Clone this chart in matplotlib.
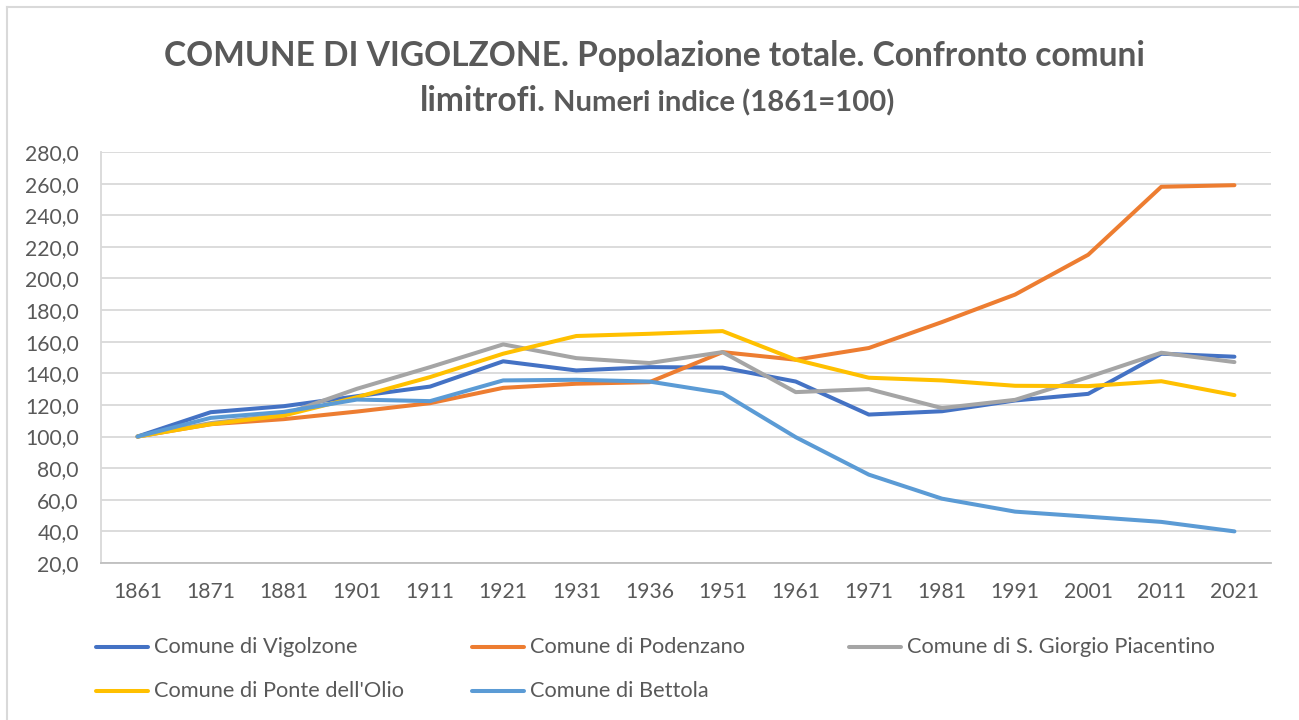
import matplotlib
matplotlib.use("Agg")
import matplotlib.pyplot as plt
from matplotlib.lines import Line2D

# ---------------- data ----------------
years = ['1861', '1871', '1881', '1901', '1911', '1921', '1931', '1936',
         '1951', '1961', '1971', '1981', '1991', '2001', '2011', '2021']

vigolzone = [100, 115.4, 119.2, 125.5, 131.6, 147.6, 141.8, 143.9,
             143.6, 134.8, 113.9, 116.0, 122.8, 127.0, 152.4, 150.5]
podenzano = [100, 107.8, 111.0, 115.8, 121.1, 130.8, 133.4, 134.4,
             153.4, 148.6, 156.0, 172.4, 189.8, 215.0, 258.0, 259.0]
sgiorgio = [100, 108.5, 114.0, 130.2, 143.9, 158.3, 149.6, 146.5,
            153.4, 128.1, 130.0, 118.0, 123.2, 137.6, 153.0, 147.1]
ponte = [100, 107.8, 113.3, 124.9, 137.6, 152.4, 163.6, 165.0,
         166.7, 148.6, 137.2, 135.5, 132.1, 131.9, 135.0, 126.2]
bettola = [100, 111.8, 115.6, 123.4, 122.4, 135.5, 135.9, 134.8,
           127.5, 99.6, 75.9, 60.7, 52.5, 49.3, 46.0, 40.0]

series_names = ['Comune di Vigolzone', 'Comune di Podenzano',
                'Comune di S. Giorgio Piacentino', "Comune di Ponte dell'Olio",
                'Comune di Bettola']
series_vals = [vigolzone, podenzano, sgiorgio, ponte, bettola]
colors = ['#4472C4', '#ED7D31', '#A5A5A5', '#FFC000', '#5B9BD5']

yticks = list(range(20, 281, 20))

# ---------------- figure ----------------
W, H = 1299, 720
FONT = 'Lato'
TXT = '#595959'
plt.rcParams['font.family'] = [FONT, 'DejaVu Sans']

fig = plt.figure(figsize=(W / 100, H / 100), dpi=100)
renderer = fig.canvas.get_renderer()


def fit(text_obj, target_px):
    fs = text_obj.get_fontsize()
    for _ in range(3):
        w = text_obj.get_window_extent(renderer).width
        fs = fs * target_px / w
        text_obj.set_fontsize(fs)
    return fs


def fx(px):
    return px / W


def fy(py):
    return 1 - py / H


# chart border (left and top only visible)
fig.add_artist(Line2D([fx(7), fx(7)], [fy(7), fy(720)], color='#d9d9d9', lw=1.5))
fig.add_artist(Line2D([fx(7), fx(1299)], [fy(7), fy(7)], color='#d9d9d9', lw=1.5))

ax = fig.add_axes([fx(101), fy(563), fx(1271) - fx(101), (563 - 152) / H])
x = list(range(len(years)))
for name, vals, c in zip(series_names, series_vals, colors):
    ax.plot(x, vals, color=c, lw=2.9, solid_capstyle='round',
            solid_joinstyle='round', label=name)

ax.set_xlim(-0.5, len(years) - 0.5)
ax.set_ylim(20, 280)
ax.set_yticks(yticks)
ax.set_yticklabels([f"{v:.1f}".replace('.', ',') for v in yticks])
ax.set_xticks(x)
ax.set_xticklabels(years)
ax.grid(axis='y', color='#d9d9d9', lw=1.3)
ax.set_axisbelow(True)
for s in ['top', 'right']:
    ax.spines[s].set_visible(False)
ax.spines['left'].set_color('#d9d9d9')
ax.spines['left'].set_linewidth(1.3)
ax.spines['bottom'].set_color('#bfbfbf')
ax.spines['bottom'].set_linewidth(1.3)
ax.tick_params(length=0)

# fit tick font size
probe = fig.text(0, 0, '280,0', fontsize=14, family=FONT)
tick_fs = fit(probe, 54)
probe.remove()
ax.tick_params(axis='y', labelsize=tick_fs, labelcolor=TXT, pad=16)
ax.tick_params(axis='x', labelsize=tick_fs, labelcolor=TXT, pad=14)

# ---------------- title ----------------
t1 = fig.text(fx(654), fy(66), 'COMUNE DI VIGOLZONE. Popolazione totale. Confronto comuni',
              ha='center', va='baseline', fontsize=24, fontweight='bold', color=TXT)
big_fs = fit(t1, 982)
t2a = fig.text(fx(546), fy(111), 'limitrofi.', ha='right', va='baseline',
               fontsize=big_fs, fontweight='bold', color=TXT)
t2b = fig.text(fx(553), fy(111), 'Numeri indice (1861=100)', ha='left', va='baseline',
               fontsize=18, fontweight='bold', color=TXT)
fit(t2b, 340)

# ---------------- legend (Excel-style, equally spaced columns) ----------------
leg_pos = [(96, 647), (472, 647), (849, 647), (96, 691), (472, 691)]
leg_texts = []
for (px, py), name, c in zip(leg_pos, series_names, colors):
    fig.add_artist(Line2D([fx(px), fx(px + 52)], [fy(py), fy(py)], color=c, lw=2.9,
                          solid_capstyle='round'))
    leg_texts.append(fig.text(fx(px + 58), fy(py), name, ha='left', va='center',
                              fontsize=14, color=TXT))
leg_fs = fit(leg_texts[0], 204)
for t in leg_texts:
    t.set_fontsize(leg_fs)

fig.savefig('out.png', dpi=100)
